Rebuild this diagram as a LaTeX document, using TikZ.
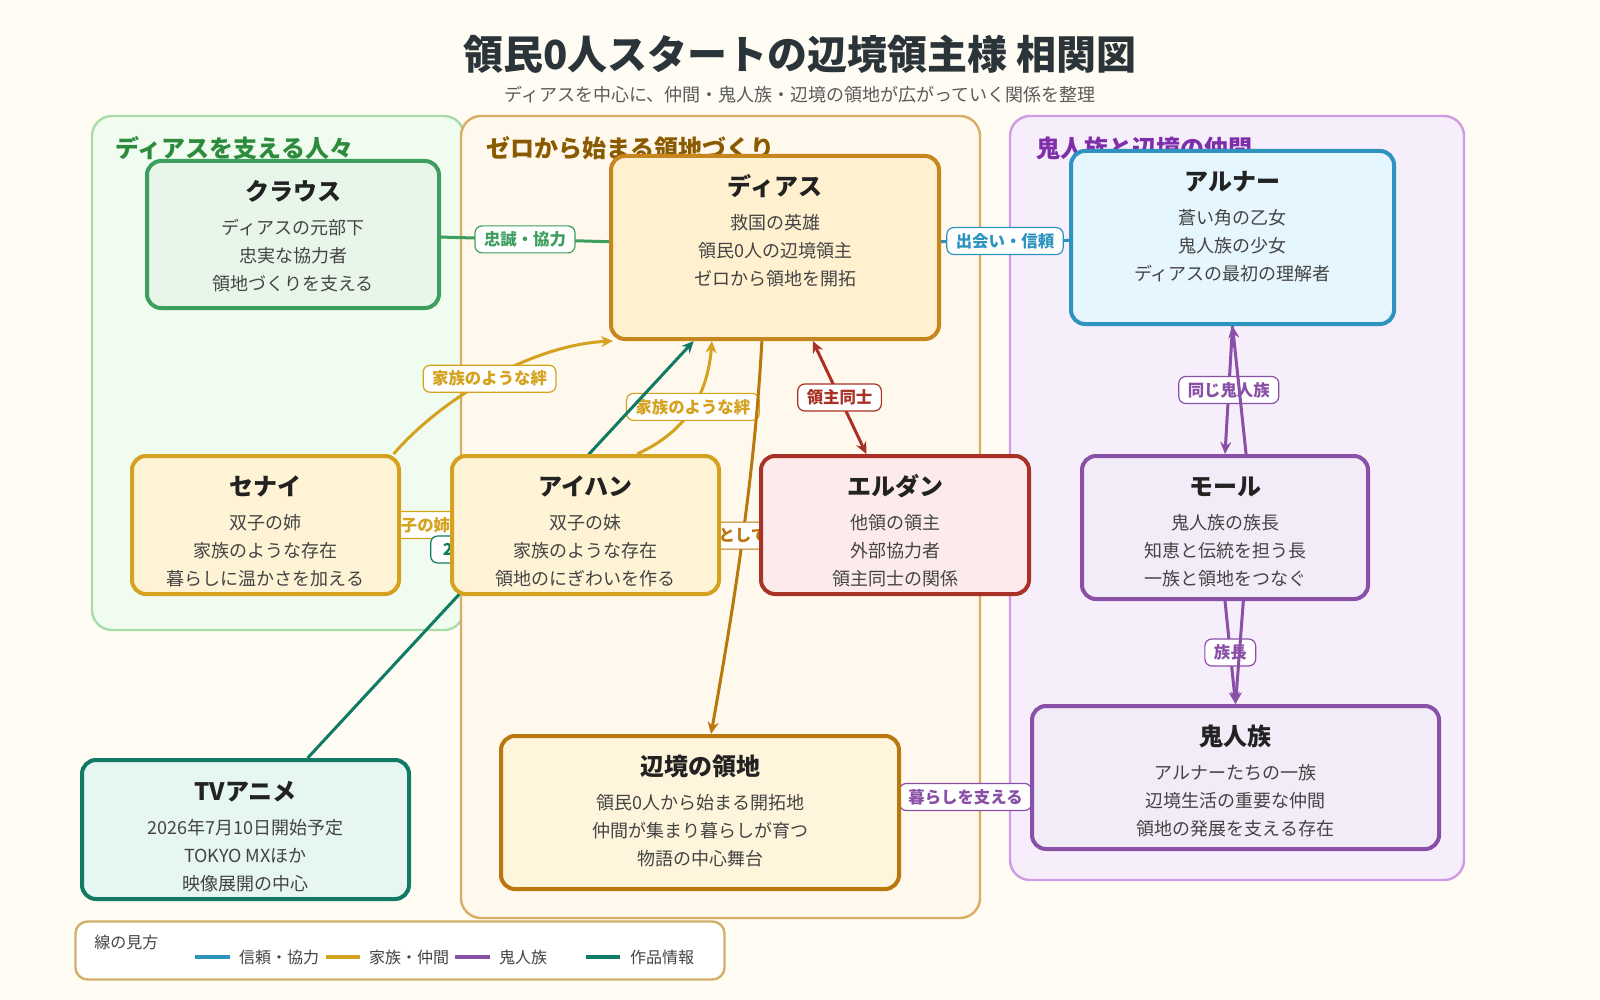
\documentclass[tikz,border=0pt]{standalone}
\usepackage{fontspec}
\setmainfont{Noto Sans CJK JP}
\usetikzlibrary{arrows.meta, positioning}
\definecolor{paper}{HTML}{FFFCF3}
\definecolor{titleink}{HTML}{2A3439}
\definecolor{subink}{HTML}{5A5A5A}
\definecolor{headink}{HTML}{222222}
\definecolor{bodyink}{HTML}{444444}
\definecolor{pine}{HTML}{3D9E5E}
\definecolor{pinefill}{HTML}{E8F6EA}
\definecolor{ocean}{HTML}{2F93C0}
\definecolor{oceanfill}{HTML}{E6F6FE}
\definecolor{ochre}{HTML}{D4A21E}
\definecolor{ochrefill}{HTML}{FFF3D6}
\definecolor{amber}{HTML}{C8861E}
\definecolor{amberfill}{HTML}{FFF0D0}
\definecolor{bronze}{HTML}{B9770E}
\definecolor{bronzefill}{HTML}{FFF5DC}
\definecolor{rust}{HTML}{A93226}
\definecolor{rustfill}{HTML}{FDEBEC}
\definecolor{plum}{HTML}{8A4FA6}
\definecolor{plumfill}{HTML}{F2EBF8}
\definecolor{deepteal}{HTML}{117A65}
\definecolor{tealfill}{HTML}{E6F6F3}
\definecolor{sagefill}{HTML}{EFFCEF}
\definecolor{sageline}{HTML}{A8DCA8}
\definecolor{sageink}{HTML}{2E8B3E}
\definecolor{sandfill}{HTML}{FFF8EC}
\definecolor{sandline}{HTML}{D9AE63}
\definecolor{sandink}{HTML}{8A5A00}
\definecolor{lilacfill}{HTML}{F6EEFB}
\definecolor{lilacline}{HTML}{CF9BE3}
\definecolor{lilacink}{HTML}{7D2EA8}
\definecolor{legendline}{HTML}{D2B06A}

\pgfdeclarelayer{groups}
\pgfdeclarelayer{links}
\pgfsetlayers{groups,links,main}

\newcommand{\boxtitle}[1]{{\fontsize{12}{14}\selectfont\bfseries\color{headink}#1}\\[3pt]}

\tikzset{
    >={Stealth[length=6pt,width=5.5pt]},
    box/.style={draw, line width=2pt, rounded corners=7pt, inner sep=0pt},
    boxtext/.style={align=center, inner sep=0pt, text=bodyink, font=\fontsize{9}{14}\selectfont},
    grp/.style={line width=1.2pt, rounded corners=10pt},
    grptitle/.style={anchor=west, inner sep=0pt, font=\fontsize{12}{14}\selectfont\bfseries},
    link/.style={line width=1.5pt},
    tag/.style={fill=white, draw, line width=0.6pt, rounded corners=3.5pt, inner xsep=4.5pt,
        inner ysep=0pt, minimum height=13.5pt, font=\fontsize{8.2}{10}\selectfont\bfseries},
    legtxt/.style={inner sep=0pt, text=bodyink, font=\fontsize{8}{10}\selectfont},
    legline/.style={line width=2pt},
}

\begin{document}
\begin{tikzpicture}[x=0.5pt, y=-0.5pt]
    \useasboundingbox (0,0) rectangle (1600,1000);

    % groups
    \begin{pgfonlayer}{groups}
        \fill[paper] (0,0) rectangle (1600,1000);
        \draw[grp, sageline, fill=sagefill] (92,116) rectangle (464,630);
        \draw[grp, sandline, fill=sandfill] (461,116) rectangle (980,918);
        \draw[grp, lilacline, fill=lilacfill] (1010,116) rectangle (1464,880);
        \node[grptitle, sageink] (grp-support) at (115,148) {ディアスを支える人々};
        \node[grptitle, sandink] (grp-land) at (486,148) {ゼロから始まる領地づくり};
        \node[grptitle, lilacink] (grp-oni) at (1036,148) {鬼人族と辺境の仲間};
    \end{pgfonlayer}

    % title
    \node[text=titleink, font=\fontsize{20}{24}\selectfont\bfseries] (title) at (800,54)
        {領民0人スタートの辺境領主様 相関図};
    \node[text=subink, font=\fontsize{9}{11}\selectfont] (subtitle) at (800,95)
        {ディアスを中心に、仲間・鬼人族・辺境の領地が広がっていく関係を整理};

    % characters
    \node[box, draw=pine, fill=pinefill, minimum width=146pt, minimum height=73.5pt] (klaus) at (293,234.5) {};
    \node[boxtext, below=10.5pt of klaus.north] (klaus-txt)
        {\boxtitle{クラウス}ディアスの元部下\\忠実な協力者\\領地づくりを支える};
    \node[box, draw=amber, fill=amberfill, minimum width=164pt, minimum height=91.5pt] (dias) at (775,247.5) {};
    \node[boxtext, below=10pt of dias.north] (dias-txt)
        {\boxtitle{ディアス}救国の英雄\\領民0人の辺境領主\\ゼロから領地を開拓};
    \node[box, draw=ocean, fill=oceanfill, minimum width=161.5pt, minimum height=86.5pt] (arnar) at (1232.5,237.5) {};
    \node[boxtext, below=11pt of arnar.north] (arnar-txt)
        {\boxtitle{アルナー}蒼い角の乙女\\鬼人族の少女\\ディアスの最初の理解者};
    \node[box, draw=ochre, fill=ochrefill, minimum width=133.5pt, minimum height=69pt] (senai) at (265.5,525) {};
    \node[boxtext, below=10.5pt of senai.north] (senai-txt)
        {\boxtitle{セナイ}双子の姉\\家族のような存在\\暮らしに温かさを加える};
    \node[box, draw=ochre, fill=ochrefill, minimum width=133.5pt, minimum height=69pt] (aihan) at (585.5,525) {};
    \node[boxtext, below=10.5pt of aihan.north] (aihan-txt)
        {\boxtitle{アイハン}双子の妹\\家族のような存在\\領地のにぎわいを作る};
    \node[box, draw=rust, fill=rustfill, minimum width=134pt, minimum height=69pt] (eldan) at (895,525) {};
    \node[boxtext, below=10pt of eldan.north] (eldan-txt)
        {\boxtitle{エルダン}他領の領主\\外部協力者\\領主同士の関係};
    \node[box, draw=plum, fill=plumfill, minimum width=143pt, minimum height=71.5pt] (mole) at (1225,527.5) {};
    \node[boxtext, below=11.5pt of mole.north] (mole-txt)
        {\boxtitle{モール}鬼人族の族長\\知恵と伝統を担う長\\一族と領地をつなぐ};
    \node[box, draw=bronze, fill=bronzefill, minimum width=199pt, minimum height=76.5pt] (land) at (700,812.5) {};
    \node[boxtext, below=10.5pt of land.north] (land-txt)
        {\boxtitle{辺境の領地}領民0人から始まる開拓地\\仲間が集まり暮らしが育つ\\物語の中心舞台};
    \node[box, draw=plum, fill=plumfill, minimum width=203.5pt, minimum height=71.5pt] (oni) at (1235.5,777.5) {};
    \node[boxtext, below=10pt of oni.north] (oni-txt)
        {\boxtitle{鬼人族}アルナーたちの一族\\辺境生活の重要な仲間\\領地の発展を支える存在};
    \node[box, draw=deepteal, fill=tealfill, minimum width=163.5pt, minimum height=69.5pt] (tv) at (245.5,829.5) {};
    \node[boxtext, below=11.5pt of tv.north] (tv-txt)
        {\boxtitle{TVアニメ}2026年7月10日開始予定\\TOKYO MXほか\\映像展開の中心};

    % links
    \begin{pgfonlayer}{links}
        \draw[link, pine] (klaus.359) -- node[tag] (tag-loyal) {忠誠・協力} (dias.178);
        \draw[link, ocean] (dias.2) -- node[tag] (tag-meet) {出会い・信頼} (arnar.181);
        \draw[link, ochre, ->] (senai.29) .. controls (440,400) and (530,345) .. node[tag] (tag-bond1) {家族のような絆} (dias.210);
        \draw[link, ochre, ->] (aihan.54) .. controls (690,430) and (708,390) .. node[tag] (tag-bond2) {家族のような絆} (dias.236);
        \draw[link, ochre] (senai.east) -- node[tag] (tag-twins) {双子の姉妹} (aihan.west);
        \draw[link, deepteal, ->] (tv.49) -- node[tag, minimum width=70pt] (tag-anime) {2026年7月放送} (dias.229);
        \draw[link, bronze, ->] (dias.262) .. controls (755,470) and (735,600) .. node[tag] (tag-base) {として} (land.82);
        \draw[link, rust, <->] (dias.292) -- node[tag] (tag-lords) {領主同士} (eldan.112);
        \draw[link, plum, ->] (arnar.south) -- node[tag] (tag-kin) {同じ鬼人族} (mole.north);
        \draw[link, plum, ->] (mole.74) -- (arnar.south);
        \draw[link, plum, ->] (mole.south) -- node[tag] (tag-chief) {族長} (oni.north);
        \draw[link, plum, ->] (mole.284) -- (oni.north);
        \draw[link, plum] (land.4.5) -- node[tag] (tag-life) {暮らしを支える} (oni.185.5);
    \end{pgfonlayer}

    % legend
    \node[draw=legendline, fill=white, line width=1.2pt, rounded corners=6pt,
        minimum width=324.5pt, minimum height=29pt] (legend) at (400,950.5) {};
    \node[legtxt, anchor=west] (legend-head) at (94,942) {線の見方};
    \draw[legline, ocean] (195,957) -- (230,957) node[legtxt, right=3.5pt] (leg-trust) {信頼・協力};
    \draw[legline, ochre] (326,957) -- (360,957) node[legtxt, right=3.5pt] (leg-family) {家族・仲間};
    \draw[legline, plum] (455,957) -- (490,957) node[legtxt, right=3.5pt] (leg-oni) {鬼人族};
    \draw[legline, deepteal] (586,957) -- (620,957) node[legtxt, right=4pt] (leg-work) {作品情報};
\end{tikzpicture}
\end{document}
